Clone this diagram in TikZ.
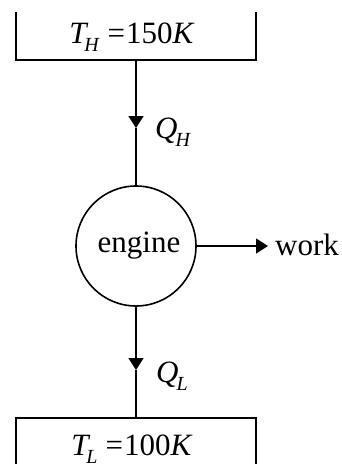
\documentclass[tikz,border=0pt]{standalone}
\usepackage{fontspec}
\setmainfont{Liberation Serif}
\usetikzlibrary{arrows.meta}
\newcommand{\mysubtext}[1]{\raisebox{-8pt}{\fontsize{20}{20}\selectfont\textit{#1}}}
\tikzset{
  wire/.style={line width=1.6pt},
  tipped/.style={wire, -{Triangle[length=12pt,width=15pt]}},
  big/.style={font=\fontsize{31}{37}\selectfont, inner sep=0pt},
  reservoir/.style={minimum width=240pt, inner sep=0pt}
}
\begin{document}
\begin{tikzpicture}[x=1pt,y=1pt]
\useasboundingbox (0,0) rectangle (341,-464);
% reservoirs
\node[reservoir, minimum height=48pt] (hot) at (136,-36) {};
\node[reservoir, minimum height=46pt] (cold) at (136,-441) {};
\draw[wire] (hot.north west) -- (hot.south west) -- (hot.south east) -- (hot.north east);
\draw[wire] (cold.south west) -- (cold.north west) -- (cold.north east) -- (cold.south east);
\node[big, anchor=base] (hotlabel) at (132,-43) {\textit{T}\kern-4pt\mysubtext{H}\hspace{8pt}=\hspace{1pt}150\textit{K}};
\node[big, anchor=base] (coldlabel) at (132,-455) {\textit{T}\kern-4pt\mysubtext{L}\hspace{8pt}=\hspace{1pt}100\textit{K}};
% engine
\node[big, circle, draw, line width=1.6pt, minimum size=120pt] (engine) at (136,-246) {\hspace{6pt}engine};
\node[big, anchor=base west] (work) at (275,-255) {work};
% flows
\coordinate (tipH) at (136,-128);
\coordinate (tipL) at (136,-370);
\draw[tipped] (hot.south) -- (tipH);
\draw[wire] (tipH) -- (engine.north);
\draw[tipped] (engine.south) -- (tipL);
\draw[wire] (tipL) -- (cold.north);
\draw[tipped, shorten >=7pt] (engine.east) -- (engine.east -| work.west);
% heat labels
\node[big, anchor=base west] (qh) at (155,-138) {\textit{Q}\kern-2pt\mysubtext{H}};
\node[big, anchor=base west] (ql) at (156,-382) {\textit{Q}\kern-2pt\mysubtext{L}};
\end{tikzpicture}
\end{document}
